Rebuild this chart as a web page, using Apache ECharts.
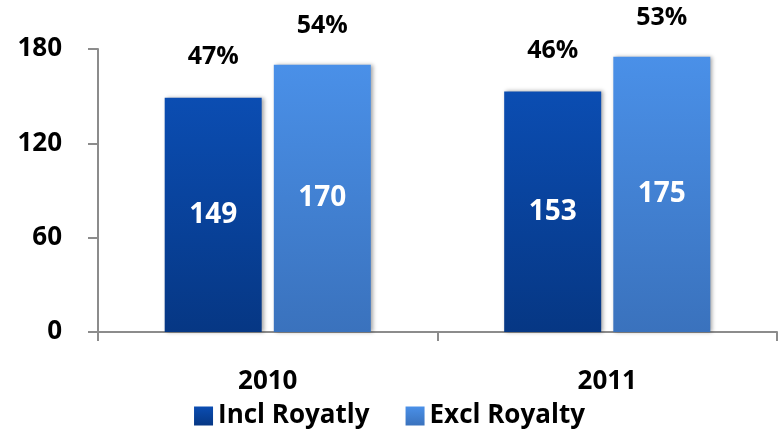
<!DOCTYPE html>
<html>
<head>
<meta charset="utf-8">
<script src="https://cdn.jsdelivr.net/npm/echarts@6/dist/echarts.min.js"></script>
<style>
  html, body { margin: 0; padding: 0; background: #ffffff; }
  #chart { width: 779px; height: 434px; }
</style>
</head>
<body>
<div id="chart"></div>
<script>
// Categories and values
const categories = ['2010', '2011'];
const inclRoyalty = [149, 153];
const exclRoyalty = [170, 175];
const inclShare = ['47%', '46%'];
const exclShare = ['54%', '53%'];
const axisMin = 0;
const axisMax = 180;
const axisStep = 60;

const FONT = '"Open Sans", Lato, sans-serif';

function vGrad(top, bottom) {
  return new echarts.graphic.LinearGradient(0, 0, 0, 1, [
    { offset: 0, color: top },
    { offset: 1, color: bottom }
  ]);
}

const darkBlue = vGrad('#0b4db2', '#063784');
const lightBlue = vGrad('#4a90e8', '#3a72bd');

const barShadow = {
  shadowColor: 'rgba(0,0,0,0.35)',
  shadowBlur: 4,
  shadowOffsetX: 2,
  shadowOffsetY: 0
};

const chart = echarts.init(document.getElementById('chart'), null, { renderer: 'canvas' });

chart.setOption({
  backgroundColor: '#ffffff',
  animation: false,
  grid: { left: 98, right: 2, top: 49, bottom: 102, containLabel: false },
  legend: {
    data: ['Incl Royatly', 'Excl Royalty'],
    bottom: 0,
    left: 'center',
    icon: 'rect',
    itemWidth: 19,
    itemHeight: 19,
    itemGap: 36,
    textStyle: { fontFamily: FONT, fontWeight: 'bold', fontSize: 26, color: '#000' }
  },
  xAxis: {
    type: 'category',
    data: categories,
    axisLine: { lineStyle: { color: '#8c8c8c', width: 2 } },
    axisTick: { show: true, length: 9, lineStyle: { color: '#8c8c8c', width: 2 } },
    axisLabel: { margin: 37, fontFamily: FONT, fontWeight: 'bold', fontSize: 26, color: '#000' }
  },
  yAxis: {
    type: 'value',
    min: axisMin,
    max: axisMax,
    interval: axisStep,
    splitLine: { show: false },
    axisLine: { show: true, lineStyle: { color: '#8c8c8c', width: 2 } },
    axisTick: { show: true, length: 10, lineStyle: { color: '#8c8c8c', width: 2 } },
    axisLabel: { margin: 36, fontFamily: FONT, fontWeight: 'bold', fontSize: 26, color: '#000' }
  },
  series: [
    {
      name: 'Incl Royatly',
      type: 'bar',
      stack: 'incl',
      data: inclRoyalty,
      barWidth: 97,
      barGap: '12.5%',
      barCategoryGap: '39.6%',
      itemStyle: Object.assign({ color: darkBlue }, barShadow),
      label: {
        show: true, position: 'inside',
        fontFamily: FONT, fontWeight: 'bold', fontSize: 28, color: '#fff'
      }
    },
    {
      name: 'Excl Royalty',
      type: 'bar',
      stack: 'excl',
      data: exclRoyalty,
      barWidth: 97,
      barGap: '12.5%',
      itemStyle: Object.assign({ color: lightBlue }, barShadow),
      label: {
        show: true, position: 'inside',
        fontFamily: FONT, fontWeight: 'bold', fontSize: 28, color: '#fff'
      }
    },
    {
      // share labels sitting on top of the Incl bars
      name: 'inclShare',
      type: 'bar',
      stack: 'incl',
      data: inclShare.map(() => 0),
      itemStyle: { color: 'transparent' },
      label: {
        show: true, position: 'top', distance: 28,
        formatter: p => inclShare[p.dataIndex],
        fontFamily: FONT, fontWeight: 'bold', fontSize: 25, color: '#000'
      }
    },
    {
      // share labels sitting on top of the Excl bars
      name: 'exclShare',
      type: 'bar',
      stack: 'excl',
      data: exclShare.map(() => 0),
      itemStyle: { color: 'transparent' },
      label: {
        show: true, position: 'top', distance: 26,
        formatter: p => exclShare[p.dataIndex],
        fontFamily: FONT, fontWeight: 'bold', fontSize: 25, color: '#000'
      }
    }
  ]
});
</script>
</body>
</html>
